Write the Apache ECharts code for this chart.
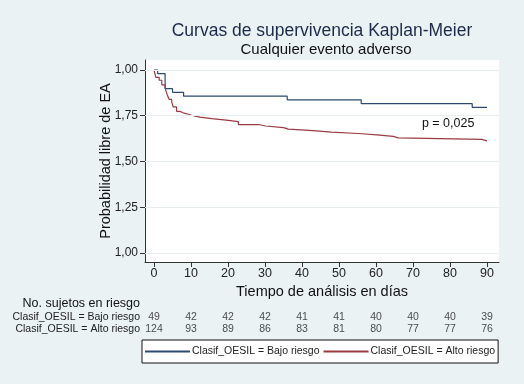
<!DOCTYPE html>
<html>
<head>
<meta charset="utf-8">
<script src="https://cdn.jsdelivr.net/npm/echarts@6/dist/echarts.min.js"></script>
<style>
  html, body { margin: 0; padding: 0; background: #fff; }
  #main { width: 524px; height: 384px; }
</style>
</head>
<body>
<div id="main"></div>
<script>
// Kaplan-Meier curves: [day, survival]
var bajoTimes = [0, 1, 3, 5, 8, 36, 56, 86, 90];
var bajoSurv = [1, 0.980, 0.898, 0.878, 0.857, 0.837, 0.816, 0.796, 0.796];

var altoTimes = [0, 0.5, 1.4, 2.1, 3.0, 3.2, 3.6, 4.1, 4.8, 5.2, 6.1, 7.0, 7.9, 9.3, 10.6, 12.4, 15.6, 19.5, 22.8, 28.2, 30.2, 35, 36.3, 43, 48, 55.2, 60.2, 64.7, 66, 88.6, 90];
var altoSurv = [1, 0.960, 0.944, 0.919, 0.903, 0.887, 0.863, 0.839, 0.823, 0.798, 0.774, 0.766, 0.758, 0.750, 0.742, 0.734, 0.726, 0.718, 0.702, 0.694, 0.685, 0.677, 0.669, 0.661, 0.653, 0.645, 0.637, 0.629, 0.621, 0.613, 0.613];

var xTicks = [0, 10, 20, 30, 40, 50, 60, 70, 80, 90];
var yTicks = [0, 0.25, 0.5, 0.75, 1];
var yTickLabels = ['1,00', '1,25', '1,50', '1,75', '1,00'];

var riskRows = ['Clasif_OESIL = Alto riesgo', 'Clasif_OESIL = Bajo riesgo'];
var riskBajo = [49, 42, 42, 42, 41, 41, 40, 40, 40, 39];
var riskAlto = [124, 93, 89, 86, 83, 81, 80, 77, 77, 76];

var nameBajo = 'Clasif_OESIL = Bajo riesgo';
var nameAlto = 'Clasif_OESIL = Alto riesgo';
var pText = 'p = 0,025';

var colBajo = '#2c4a6e';
var colAlto = '#9a3a42';
var font = 'Liberation Sans, Arial, sans-serif';

function pairs(xs, ys) {
  var out = [];
  for (var i = 0; i < xs.length; i++) out.push([xs[i], ys[i]]);
  return out;
}

var riskData = [];
for (var i = 0; i < xTicks.length; i++) {
  riskData.push([xTicks[i], 1, riskBajo[i]]);
  riskData.push([xTicks[i], 0, riskAlto[i]]);
}

var chart = echarts.init(document.getElementById('main'));

var option = {
  backgroundColor: '#eaf2f3',
  animation: false,
  textStyle: { fontFamily: font },
  title: [
    { text: 'Curvas de supervivencia Kaplan-Meier', left: 317, top: 17, textAlign: 'center',
      textStyle: { fontSize: 17.5, fontWeight: 'normal', color: '#1c2a48', fontFamily: font } },
    { text: 'Cualquier evento adverso', left: 321, top: 37, textAlign: 'center',
      textStyle: { fontSize: 15, fontWeight: 'normal', color: '#111', fontFamily: font } }
  ],
  grid: [
    { left: 145, right: 25, top: 60, bottom: 122, show: true, backgroundColor: '#fff', borderWidth: 0 },
    { left: 145, right: 25, top: 311.5, height: 24 }
  ],
  xAxis: [
    {
      type: 'value', gridIndex: 0, min: -2.432, max: 93.243,
      name: 'Tiempo de análisis en días', nameLocation: 'middle', nameGap: 22,
      nameTextStyle: { fontSize: 14.5, color: '#111', fontFamily: font },
      axisLine: { show: true, onZero: false, lineStyle: { color: '#333', width: 1 } },
      axisTick: { show: true, length: 5, customValues: xTicks, lineStyle: { color: '#333' } },
      axisLabel: { customValues: xTicks, fontSize: 12.5, color: '#222', margin: 5 },
      splitLine: { show: false }
    },
    {
      type: 'value', gridIndex: 1, min: -2.432, max: 93.243, show: false
    }
  ],
  yAxis: [
    {
      type: 'value', gridIndex: 0, min: -0.0492, max: 1.0546,
      name: 'Probabilidad libre de EA', nameLocation: 'middle', nameGap: 32, nameMoveOverlap: false,
      nameTextStyle: { fontSize: 14.5, color: '#111', fontFamily: font },
      axisLine: { show: true, onZero: false, lineStyle: { color: '#333', width: 1 } },
      axisTick: { show: true, length: 5, customValues: yTicks, lineStyle: { color: '#333' } },
      axisLabel: {
        customValues: yTicks, fontSize: 12, color: '#222', margin: 7,
        formatter: function (v) { return yTickLabels[Math.round(v / 0.25)]; }
      },
      splitLine: { show: false }
    },
    {
      type: 'category', gridIndex: 1, data: riskRows,
      axisLine: { show: false }, axisTick: { show: false },
      axisLabel: { interval: 0, fontSize: 10.5, color: '#222', margin: 5 }
    }
  ],
  legend: {
    left: 142, top: 340,
    data: [nameBajo, nameAlto],
    icon: 'rect', itemWidth: 45, itemHeight: 2, itemGap: 4,
    backgroundColor: '#fff', borderColor: '#111', borderWidth: 1,
    padding: [6, 3, 6, 3],
    textStyle: { fontSize: 10.5, color: '#222', fontFamily: font, padding: [0, 0, 0, -3] }
  },
  graphic: [
    { type: 'text', right: 384, top: 297,
      style: { text: 'No. sujetos en riesgo', fontSize: 12.5, fill: '#111', fontFamily: font, textAlign: 'right' } }
  ],
  series: [
    // faint horizontal grid lines
    {
      type: 'line', xAxisIndex: 0, yAxisIndex: 0, data: [], silent: true,
      markLine: {
        silent: true, symbol: 'none', label: { show: false },
        lineStyle: { color: '#e8eeef', width: 1, type: 'solid' },
        data: yTicks.map(function (v) { return { yAxis: v }; })
      }
    },
    {
      name: nameBajo, type: 'line', step: 'end', xAxisIndex: 0, yAxisIndex: 0,
      data: pairs(bajoTimes, bajoSurv), showSymbol: false,
      lineStyle: { color: colBajo, width: 1.2 }, itemStyle: { color: colBajo }
    },
    {
      name: nameAlto, type: 'line', step: 'end', xAxisIndex: 0, yAxisIndex: 0,
      data: pairs(altoTimes, altoSurv), showSymbol: false,
      lineStyle: { color: colAlto, width: 1.2 }, itemStyle: { color: colAlto },
      markPoint: {
        symbol: 'circle', symbolSize: 0,
        label: { show: true, position: 'inside', formatter: pText, fontSize: 12.5, color: '#111', fontFamily: font },
        data: [{ coord: [79.5, 0.709] }]
      }
    },
    {
      type: 'scatter', xAxisIndex: 1, yAxisIndex: 1, data: riskData, symbolSize: 0,
      label: {
        show: true, position: 'inside', fontSize: 10.5, color: '#222',
        formatter: function (p) { return p.value[2]; }
      }
    }
  ]
};

chart.setOption(option);
</script>
</body>
</html>
